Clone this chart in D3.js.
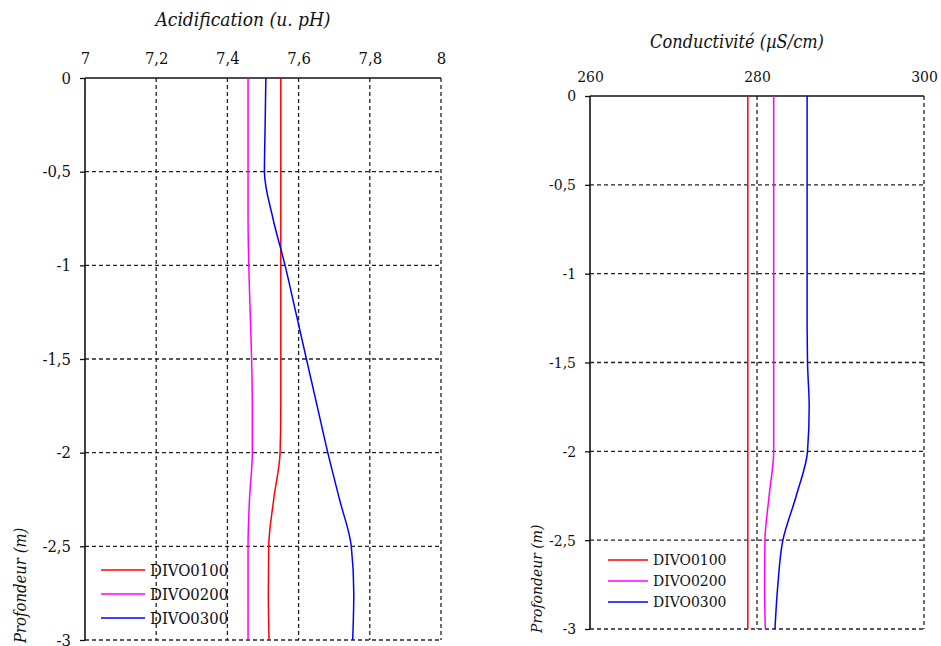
<!DOCTYPE html>
<html><head><meta charset="utf-8">
<script src="https://cdn.jsdelivr.net/npm/d3@7"></script>
<style>body{margin:0;background:#fff}svg{display:block}text{font-family:"DejaVu Serif Condensed","DejaVu Serif",serif;fill:#111}</style>
</head><body>
<svg id="c" width="941" height="646"></svg>
<script>
const depths = [0,-0.25,-0.5,-0.75,-1,-1.25,-1.5,-1.75,-2,-2.25,-2.5,-2.75,-3];
const seriesNames = ["DIVO0100","DIVO0200","DIVO0300"];
const seriesColors = ["#ff0000","#ff00ff","#0000ff"];
const ph100 = [7.55,7.55,7.55,7.55,7.55,7.55,7.55,7.55,7.548,7.53,7.516,7.515,7.517];
const ph200 = [7.458,7.458,7.458,7.458,7.46,7.464,7.468,7.47,7.47,7.462,7.458,7.458,7.458];
const ph300 = [7.508,7.506,7.504,7.528,7.562,7.592,7.622,7.652,7.682,7.715,7.748,7.755,7.752];
const cond100 = [278.9,278.9,278.9,278.9,278.9,278.9,278.9,278.9,278.9,278.9,278.9,278.9,278.9];
const cond200 = [282.0,282.0,282.0,282.0,282.0,282.0,282.0,282.0,282.0,281.45,280.95,280.9,281.0];
const cond300 = [286.0,286.0,286.0,286.0,286.0,286.0,286.05,286.25,286.05,284.7,283.1,282.5,282.15];
const phTicks = [7,7.2,7.4,7.6,7.8,8];
const condTicks = [260,280,300];
const depthTicks = [0,-0.5,-1,-1.5,-2,-2.5,-3];
const titles = ["Acidification (u. pH)","Conductivité (µS/cm)"];
const yTitle = "Profondeur (m)";

const FONT = "DejaVu Serif Condensed, DejaVu Serif, serif";
const fmt = v => String(v).replace('.', ',');
const svg = d3.select("#c");

function panel(cfg){
  const g = svg.append("g");
  const x = d3.scaleLinear().domain(cfg.xdom).range([cfg.left, cfg.right]);
  const y = d3.scaleLinear().domain([0,-3]).range([cfg.top, cfg.bottom]);
  g.selectAll(".hg").data(depthTicks.filter(d=>d!==0)).join("line")
    .attr("x1",cfg.left).attr("x2",cfg.right).attr("y1",d=>y(d)).attr("y2",d=>y(d))
    .attr("stroke","#222").attr("stroke-width",1.3).attr("stroke-dasharray","4,3");
  g.selectAll(".vg").data(cfg.ticks.slice(1)).join("line")
    .attr("x1",d=>x(d)).attr("x2",d=>x(d)).attr("y1",cfg.top).attr("y2",cfg.bottom)
    .attr("stroke","#222").attr("stroke-width",1.3).attr("stroke-dasharray","4,3");
  const ya = d3.axisLeft(y).tickValues(depthTicks).tickFormat(fmt).tickSize(5).tickPadding(9);
  const yg = g.append("g").attr("transform",`translate(${cfg.left},0)`).call(ya);
  const xa = d3.axisTop(x).tickValues(cfg.ticks).tickFormat(fmt).tickSize(0).tickPadding(cfg.xpad);
  const xg = g.append("g").attr("transform",`translate(0,${cfg.top})`).call(xa);
  [yg,xg].forEach(a=>{
    a.select(".domain").attr("stroke","#111").attr("stroke-width",1.6);
    a.selectAll(".tick line").attr("stroke","#111").attr("stroke-width",1.3);
    a.selectAll("text").attr("font-size",cfg.fs).attr("font-family",FONT).attr("fill","#111");
  });
  yg.select(".domain").attr("d",`M0,${cfg.top}V${cfg.bottom}`);
  xg.select(".domain").attr("d",`M${cfg.left},0H${cfg.right}`);
  const line = d3.line().x(d=>x(d[0])).y(d=>y(d[1])).curve(d3.curveMonotoneY);
  cfg.series.forEach((s,i)=>{
    g.append("path").datum(s.map((v,j)=>[v,depths[j]]))
      .attr("d",line).attr("fill","none").attr("stroke",seriesColors[i]).attr("stroke-width",1.5);
  });
  g.append("text").attr("x",cfg.titleX).attr("y",cfg.titleY).attr("text-anchor","middle")
    .attr("font-style","italic").attr("font-size",cfg.tfs).text(cfg.title);
  g.append("text").attr("transform",`translate(${cfg.ytX},${cfg.ytY}) rotate(-90)`)
    .attr("text-anchor","start").attr("font-style","italic").attr("font-size",cfg.fs).text(yTitle);
  seriesNames.forEach((n,i)=>{
    const ly = cfg.legY + i*cfg.legDy;
    g.append("line").attr("x1",cfg.legX).attr("x2",cfg.legX+cfg.legW).attr("y1",ly).attr("y2",ly)
      .attr("stroke",seriesColors[i]).attr("stroke-width",1.5);
    g.append("text").attr("x",cfg.legX+cfg.legW+5).attr("y",ly).attr("dy","0.35em")
      .attr("font-size",cfg.fs).text(n);
  });
}

panel({xdom:[7,8],ticks:phTicks,left:85,right:441,top:78,bottom:640,xpad:14,fs:16.5,tfs:19,
  series:[ph100,ph200,ph300],title:titles[0],titleX:243,titleY:26,ytX:26,ytY:643,
  legX:101,legW:44,legY:570,legDy:24});
panel({xdom:[260,300],ticks:condTicks,left:590,right:924,top:96,bottom:629,xpad:14,fs:15.5,tfs:18,
  series:[cond100,cond200,cond300],title:titles[1],titleX:737,titleY:48,ytX:542,ytY:633,
  legX:608,legW:40,legY:560,legDy:21});
</script>
</body></html>
